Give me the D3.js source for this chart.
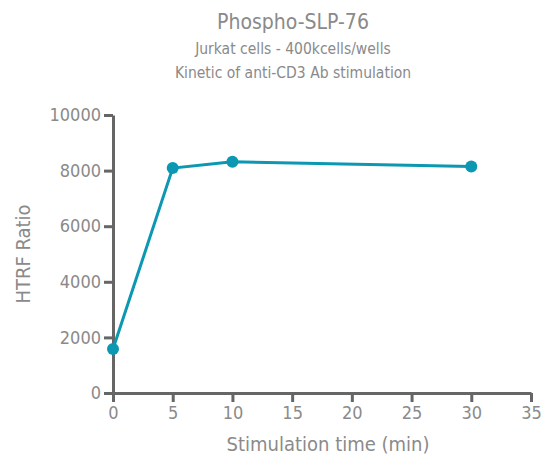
<!DOCTYPE html>
<html>
<head>
<meta charset="utf-8">
<script src="https://cdn.jsdelivr.net/npm/d3@7"></script>
<style>
  body { margin: 0; background: #fff; }
  text { font-family: "Liberation Sans Narrow", "DejaVu Sans Condensed", "Roboto", sans-serif; fill: #8a8a8a; }
</style>
</head>
<body>
<div class="chart"></div>
<script>
// data
const times = [0, 5, 10, 30];
const ratios = [1580, 8090, 8320, 8150];
const xTicks = [0, 5, 10, 15, 20, 25, 30, 35];
const yTicks = [0, 2000, 4000, 6000, 8000, 10000];

const W = 548, H = 459;
const m = { left: 113, right: 17, top: 115, bottom: 66 };

const svg = d3.select('.chart')
  .append('svg')
  .attr('width', W)
  .attr('height', H);

const x = d3.scaleLinear().domain([0, 35]).range([m.left, W - m.right]);
const y = d3.scaleLinear().domain([0, 10000]).range([H - m.bottom, m.top]);

// titles
svg.append('text').attr('x', 293).attr('y', 29).attr('text-anchor', 'middle')
  .style('font-size', '21px').text('Phospho-SLP-76');
svg.append('text').attr('x', 293).attr('y', 54).attr('text-anchor', 'middle')
  .style('font-size', '15.5px').text('Jurkat cells - 400kcells/wells');
svg.append('text').attr('x', 293).attr('y', 78).attr('text-anchor', 'middle')
  .style('font-size', '15.5px').text('Kinetic of anti-CD3 Ab stimulation');

// axes
const xAxis = svg.append('g')
  .attr('transform', `translate(0,${y(0)})`)
  .call(d3.axisBottom(x).tickValues(xTicks).tickSize(9).tickPadding(4).tickSizeOuter(0));
const yAxis = svg.append('g')
  .attr('transform', `translate(${x(0)},0)`)
  .call(d3.axisLeft(y).tickValues(yTicks).tickFormat(d3.format('d')).tickSize(9).tickPadding(3).tickSizeOuter(0));

[xAxis, yAxis].forEach(g => {
  g.select('.domain').attr('stroke', '#666').attr('stroke-width', 3);
  g.selectAll('.tick line').attr('stroke', '#666').attr('stroke-width', 3);
  g.selectAll('.tick text').style('font-size', '18px').attr('fill', '#8a8a8a');
});

// axis titles
svg.append('text').attr('x', 328).attr('y', 451).attr('text-anchor', 'middle')
  .style('font-size', '20px').text('Stimulation time (min)');
svg.append('text').attr('transform', `translate(30,${y(5000)}) rotate(-90)`)
  .attr('text-anchor', 'middle').style('font-size', '20px').text('HTRF Ratio');

// series
const pts = times.map((t, i) => ({ t, v: ratios[i] }));
const line = d3.line().x(d => x(d.t)).y(d => y(d.v));

svg.append('path').datum(pts)
  .attr('d', line)
  .attr('fill', 'none')
  .attr('stroke', '#0c97b3')
  .attr('stroke-width', 3);

svg.selectAll('.pt')
  .data(pts)
  .enter()
  .append('circle')
  .attr('class', 'pt')
  .attr('cx', d => x(d.t))
  .attr('cy', d => y(d.v))
  .attr('r', 6)
  .attr('fill', '#0c97b3');
</script>
</body>
</html>
